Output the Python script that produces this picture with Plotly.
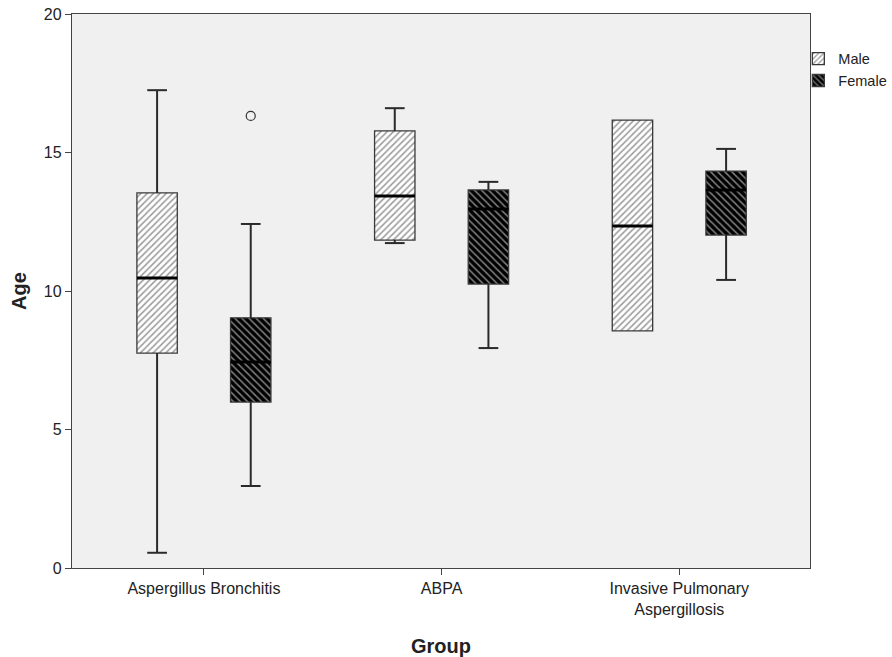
import plotly.graph_objects as go

groups = ["Aspergillus Bronchitis", "ABPA", "Invasive Pulmonary<br>Aspergillosis"]
sexes = ["Male", "Female"]

# box statistics per sex, one value per group
male_lower = [0.55, 11.73, 8.56]
male_q1 = [7.76, 11.84, 8.56]
male_median = [10.47, 13.43, 12.35]
male_q3 = [13.54, 15.78, 16.17]
male_upper = [17.25, 16.60, 16.17]

female_lower = [2.96, 7.94, 10.40]
female_q1 = [5.99, 10.25, 12.02]
female_median = [7.44, 12.96, 13.65]
female_q3 = [9.03, 13.65, 14.33]
female_upper = [12.42, 13.94, 15.13]

female_outlier_group = [0]
female_outlier_value = [16.32]

stats = {
    "Male": (male_lower, male_q1, male_median, male_q3, male_upper),
    "Female": (female_lower, female_q1, female_median, female_q3, female_upper),
}
offsets = {"Male": -0.197, "Female": 0.197}
styles = {
    "Male": dict(color="white", pattern=dict(shape="/", fgcolor="#3a3a3a", bgcolor="white", size=4.5, solidity=0.35)),
    "Female": dict(color="black", pattern=dict(shape="\\", fgcolor="white", bgcolor="black", size=5, solidity=0.3)),
}
box_w = 0.17
cap_w = 0.083

fig = go.Figure()
for sex in sexes:
    lo, q1, med, q3, up = stats[sex]
    xs = [i + 1 + offsets[sex] for i in range(len(groups))]
    wx, wy = [], []
    for x, l, a, b, u in zip(xs, lo, q1, q3, up):
        if u > b:
            wx += [x, x, None, x - cap_w / 2, x + cap_w / 2, None]
            wy += [b, u, None, u, u, None]
        if l < a:
            wx += [x, x, None, x - cap_w / 2, x + cap_w / 2, None]
            wy += [a, l, None, l, l, None]
    fig.add_trace(go.Scatter(x=wx, y=wy, mode="lines", line=dict(color="#2a2a2a", width=2),
                             showlegend=False, hoverinfo="skip"))
    fig.add_trace(go.Bar(
        x=xs, y=[b - a for a, b in zip(q1, q3)], base=q1, width=box_w, name=sex,
        marker=dict(color=styles[sex]["color"], pattern=styles[sex]["pattern"],
                    line=dict(color="#3a3a3a", width=1.3)),
    ))
    mx, my = [], []
    for x, m in zip(xs, med):
        mx += [x - box_w / 2, x + box_w / 2, None]
        my += [m, m, None]
    fig.add_trace(go.Scatter(x=mx, y=my, mode="lines", line=dict(color="black", width=3),
                             showlegend=False, hoverinfo="skip"))

fig.add_trace(go.Scatter(
    x=[g + 1 + offsets["Female"] for g in female_outlier_group], y=female_outlier_value,
    mode="markers", marker=dict(symbol="circle-open", size=9, color="#333", line=dict(width=1.2)),
    showlegend=False, hoverinfo="skip"))

fig.update_layout(
    width=892, height=657,
    margin=dict(l=72, r=82, t=14, b=89, autoexpand=False),
    paper_bgcolor="white", plot_bgcolor="#f0f0f0",
    barmode="overlay",
    font=dict(family="Liberation Sans, Arial, sans-serif", size=16, color="#222"),
    legend=dict(xref="container", yref="container", x=0.895, y=0.935, xanchor="left", yanchor="top",
                font=dict(size=14.5), bgcolor="rgba(0,0,0,0)", tracegroupgap=0, itemwidth=30,
                borderwidth=0),
    showlegend=True,
)
fig.update_xaxes(
    range=[0.445, 3.55], tickmode="array", tickvals=[1, 2, 3], ticktext=groups,
    showline=True, mirror=True, linecolor="#444", linewidth=1.3, automargin=False,
    ticks="outside", ticklen=6, tickcolor="#444", showgrid=False, zeroline=False,
    title=dict(text="<b>Group</b>", font=dict(size=20), standoff=22),
    tickfont=dict(size=16),
)
fig.update_yaxes(
    range=[0, 20], tickvals=[0, 5, 10, 15, 20], ticklabeloverflow="allow",
    showline=True, mirror=True, linecolor="#444", linewidth=1.3, automargin=False,
    ticks="outside", ticklen=6, tickcolor="#444", showgrid=False, zeroline=False,
    title=dict(text="<b>Age</b>", font=dict(size=20), standoff=11),
    tickfont=dict(size=16),
)
fig.write_html("out.html", config={"displayModeBar": False},
               post_script="document.body.style.margin='0';")
